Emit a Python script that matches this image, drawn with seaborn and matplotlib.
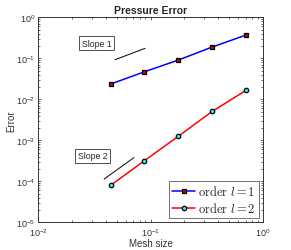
import matplotlib
matplotlib.use('Agg')
import matplotlib.pyplot as plt
import numpy as np
import pandas as pd
import seaborn as sns

# mesh sizes and errors
mesh_size = [0.0442, 0.0884, 0.177, 0.354, 0.707]
err_order1 = [0.0236, 0.047, 0.091, 0.189, 0.37]
err_order2 = [8.0e-5, 3.2e-4, 1.26e-3, 5.1e-3, 0.0166]

# reference slope segments
slope1_x = [0.0483, 0.0893]
slope1_y = [0.0925, 0.175]
slope2_x = [0.0387, 0.0713]
slope2_y = [1.14e-4, 3.8e-4]

sns.set_style('ticks')
plt.rcParams['font.family'] = ['Liberation Sans', 'DejaVu Sans']
plt.rcParams['mathtext.fontset'] = 'cm'

fig = plt.figure(figsize=(2.91, 2.51), dpi=100)
ax = fig.add_axes([0.1306, 0.110, 0.7732, 0.817])

df1 = pd.DataFrame({'h': mesh_size, 'err': err_order1})
df2 = pd.DataFrame({'h': mesh_size, 'err': err_order2})

sns.lineplot(data=df1, x='h', y='err', color='blue', lw=1.1, marker='s', markersize=3,
             markerfacecolor='#cc0000', markeredgecolor='black', markeredgewidth=0.9,
             label=r'$\mathrm{order}\ l=1$', ax=ax)
sns.lineplot(data=df2, x='h', y='err', color='red', lw=1.1, marker='o', markersize=3.2,
             markerfacecolor='cyan', markeredgecolor='black', markeredgewidth=0.9,
             label=r'$\mathrm{order}\ l=2$', ax=ax)
ax.plot(slope1_x, slope1_y, color='black', lw=0.7)
ax.plot(slope2_x, slope2_y, color='black', lw=0.7)

ax.set_xscale('log')
ax.set_yscale('log')
ax.set_xlim(1e-2, 1)
ax.set_ylim(1e-5, 1)
ax.set_xticks([1e-2, 1e-1, 1])
ax.set_yticks([1e-5, 1e-4, 1e-3, 1e-2, 1e-1, 1])
ax.tick_params(which='both', direction='in', top=True, right=True, labelsize=6.5, width=0.5,
               color='#333333', labelcolor='#333333', pad=2)
ax.tick_params(axis='x', which='major', pad=3)
ax.tick_params(which='major', length=2.5)
ax.tick_params(which='minor', length=1.3)
for s in ax.spines.values():
    s.set_linewidth(0.7)
    s.set_color('#333333')

ax.set_xlabel('Mesh size', fontsize=7, labelpad=0, color='#333333')
ax.set_ylabel('Error', fontsize=7, labelpad=0, color='#333333')
ax.set_title('Pressure Error', fontsize=7.5, fontweight='bold', pad=3)

box = dict(boxstyle='square,pad=0.3', fc='white', ec='#333333', lw=0.6)
ax.text(0.0245, 0.236, 'Slope 1', fontsize=6.3, bbox=box, va='center')
ax.text(0.0225, 4.2e-4, 'Slope 2', fontsize=6.3, bbox=box, va='center')

leg = ax.legend(loc='lower right', fontsize=9, frameon=True, fancybox=False, handlelength=1.9,
                handletextpad=0.2, borderpad=0.25, labelspacing=0.2, borderaxespad=0.35)
leg.get_frame().set_edgecolor('#333333')
leg.get_frame().set_linewidth(0.6)

fig.savefig('out.png', dpi=100)
